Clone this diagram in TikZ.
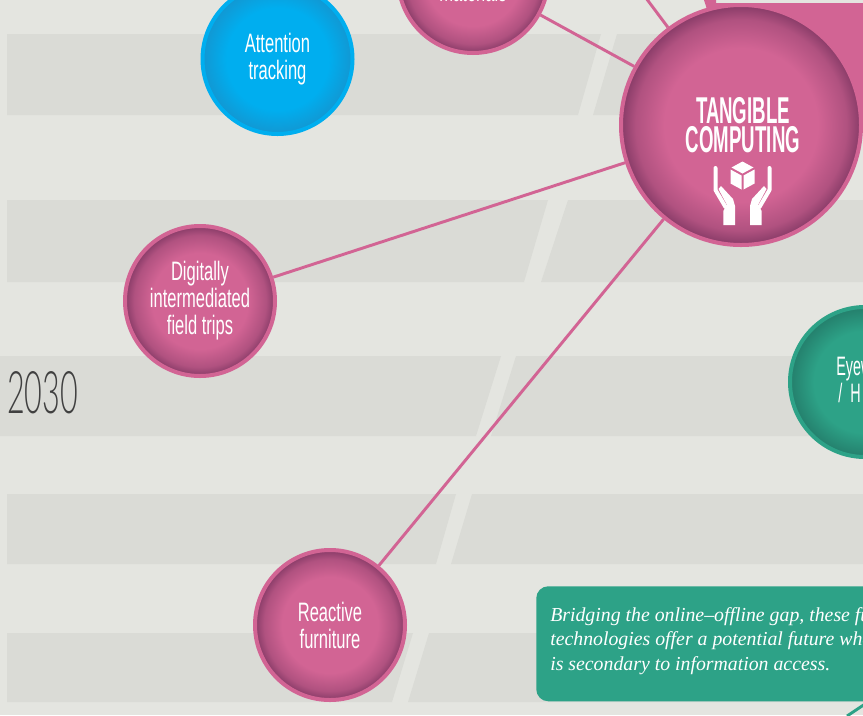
\documentclass[tikz,border=0pt]{standalone}
\usepackage{fontspec}
\setmainfont{Liberation Sans}
\newfontfamily\labelfont[FakeStretch=0.62]{Liberation Sans}
\newfontfamily\eyefont[FakeStretch=0.54]{Liberation Sans}
\newfontfamily\headfont[FakeStretch=0.5]{Liberation Sans Bold}
\newfontfamily\yearfont[FakeStretch=0.52]{Lato Light}
\newfontfamily\notefont{Liberation Serif}

\definecolor{paper}{HTML}{E4E5E0}
\definecolor{bandgrey}{HTML}{DADBD6}
\definecolor{ballpink}{HTML}{D26494}
\definecolor{darkpink}{HTML}{873B67}
\definecolor{ballblue}{HTML}{00AEEF}
\definecolor{darkblue}{HTML}{1297D2}
\definecolor{ballgreen}{HTML}{2DA287}
\definecolor{darkgreen}{HTML}{247F6C}

\pgfdeclareradialshading{pinkshade}{\pgfpoint{0bp}{0bp}}{color(0bp)=(ballpink); color(16bp)=(ballpink); color(22bp)=(ballpink!55!darkpink); color(25bp)=(darkpink); color(50bp)=(darkpink)}
\pgfdeclareradialshading{blueshade}{\pgfpoint{0bp}{0bp}}{color(0bp)=(ballblue); color(17bp)=(ballblue); color(25bp)=(darkblue); color(50bp)=(darkblue)}
\pgfdeclareradialshading{greenshade}{\pgfpoint{0bp}{0bp}}{color(0bp)=(ballgreen); color(17bp)=(ballgreen); color(25bp)=(darkgreen); color(50bp)=(darkgreen)}

\tikzset{
	balltext/.style={text=white, font=\labelfont\fontsize{20}{20.2}\selectfont},
	ball/.style={balltext, circle, inner sep=0pt, minimum size=112.5pt, line width=3pt, align=center, shade},
	pinkball/.style={ball, draw=ballpink, shading=pinkshade},
	blueball/.style={ball, draw=ballblue, shading=blueshade},
	greenball/.style={ball, draw=ballgreen, shading=greenshade},
	link/.style={line width=2.2pt, draw=ballpink},
}

\begin{document}
\begin{tikzpicture}[x=0.75pt, y=-0.75pt]
	\useasboundingbox (0,0) rectangle (863,715);
	\clip (0,0) rectangle (863,715);
	\fill[paper] (0,0) rectangle (863,715);

	% bands with the slanted gap
	\foreach \ytop/\ybot/\xstart/\atop/\abot/\btop/\bbot in {
		34/115/7/601/578/617/593,
		200/282/7/548/524/568/541,
		356/436/0/501/476/516/491,
		494/564/7/456/436/472/451,
		633/702/7/413/392/429/408} {
		\fill[bandgrey] (\xstart,\ytop) -- (\atop,\ytop) -- (\abot,\ybot) -- (\xstart,\ybot) -- cycle;
		\fill[bandgrey] (\btop,\ytop) -- (863,\ytop) -- (863,\ybot) -- (\bbot,\ybot) -- cycle;
	}

	\fill[ballpink] (704,0) -- (716,0) -- (716,3) -- (863,3) -- (863,125) -- (741,125) -- (712,25) -- cycle;

	\node[font=\yearfont\fontsize{44}{44}\selectfont, text=black!75, anchor=west, inner sep=0pt] (year) at (7,393) {2030};

	\node[pinkball, minimum size=180pt, font=\headfont\fontsize{28}{21.75}\selectfont] (tangible) at (741,125) {\hspace*{3pt}TANGIBLE\\\hspace*{3pt}COMPUTING};
	\node[pinkball] (materials) at (473,-22) {};
	\node[blueball] (attention) at (277.5,59) {Attention\\tracking};
	\node[pinkball] (fieldtrips) at (200,301) {Digitally\\intermediated\\field trips};
	\node[pinkball] (furniture) at (330,625) {Reactive\\furniture};
	\node[greenball] (eyewear) at (865,382) {};

	\node[balltext, inner sep=0pt] (materialstext) at (473,-8) {materials};
	\node[balltext, font=\eyefont\fontsize{20}{20.2}\selectfont, inner sep=0pt, anchor=west, align=left] (eyeweartext) at (836,380) {Eyew\\\hspace{1.5pt}/\hspace{3pt} H};

	\coordinate (topend) at (637,-14);
	\draw[link] (topend) -- (tangible);
	\draw[link] (materials) -- (tangible);
	\draw[link] (fieldtrips) -- (tangible);
	\draw[link] (furniture) -- (tangible);

	% cube and hands
	\fill[white] (742.5,161.5) -- (753.5,167.5) -- (742.5,173.5) -- (731.5,167.5) -- cycle;
	\fill[white] (730.5,169.5) -- (741.5,175.5) -- (741.5,189.5) -- (730.5,183.5) -- cycle;
	\fill[white] (754.5,169.5) -- (743.5,175.5) -- (743.5,189.5) -- (754.5,183.5) -- cycle;
	\foreach \flip in {1,-1} {
		\begin{scope}[shift={(742.5,0)}, xscale=\flip]
			\draw[white, line width=3pt, line cap=round, line join=round] (-27,168) -- (-27,190) -- (-17,207);
			\fill[white] (-24,189) -- (-21.5,186) -- (-9.5,199) -- (-7.5,206) -- (-7.5,225) -- (-19.2,225) -- (-19.2,211) -- (-15.5,205) -- cycle;
		\end{scope}
	}

	\coordinate (noteend) at (847,716);
	\coordinate (noteout) at (865,704);
	\draw[line width=2.2pt, draw=ballgreen] (noteend) -- (noteout);
	\node[fill=ballgreen, rounded corners=9pt, minimum width=280pt, minimum height=86.25pt, anchor=north west, inner sep=0pt] (note) at (536,586) {};
	\node[text=white, anchor=north west, inner sep=0pt, align=left, font=\notefont\itshape\fontsize{14.85}{18.4}\selectfont] (notetext) at (550,607) {Bridging the online–offline gap, these fu\\technologies offer a potential future whe\\is secondary to information access.};
\end{tikzpicture}
\end{document}
